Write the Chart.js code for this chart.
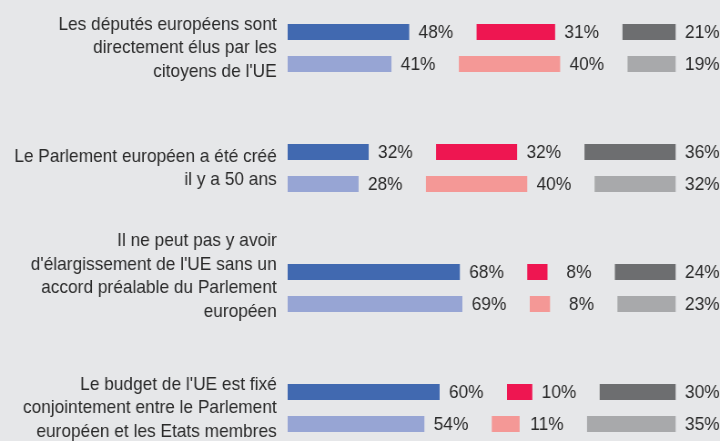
<!DOCTYPE html>
<html>
<head>
<meta charset="utf-8">
<script src="https://cdn.jsdelivr.net/npm/chart.js@4/dist/chart.umd.min.js"></script>
<style>
  html, body { margin: 0; padding: 0; background: #e6e7e9; overflow: hidden; }
  /* the reference is slightly squeezed horizontally, so draw wider and squeeze */
  #wrap { width: 791px; height: 441px; transform: scaleX(0.9102); transform-origin: 0 0; }
</style>
</head>
<body>
<div id="wrap"><canvas id="chart"></canvas></div>
<script>
// statements (the 3rd one gets an empty last line so it sits like the original)
const categories = [
    ["Les députés européens sont", "directement élus par les", "citoyens de l'UE"],
    ["Le Parlement européen a été créé", "il y a 50 ans"],
    ["Il ne peut pas y avoir", "d'élargissement de l'UE sans un", "accord préalable du Parlement", "européen", ""],
    ["Le budget de l'UE est fixé", "conjointement entre le Parlement", "européen et les Etats membres"]
];

// top row of each pair
const vraiA = [48, 32, 68, 60];
const fauxA = [31, 32, 8, 10];
const nspA  = [21, 36, 24, 30];
// bottom row of each pair
const vraiB = [41, 28, 69, 54];
const fauxB = [40, 40, 8, 11];
const nspB  = [19, 32, 23, 35];

const GAP = 26.6;   // room between segments (holds the % label)

// floating segments: [start, end] laid one after the other with a gap
function segments(a, b, c) {
    const s1 = [], s2 = [], s3 = [];
    for (let i = 0; i < a.length; i++) {
        s1.push([0, a[i]]);
        const r0 = a[i] + GAP;
        s2.push([r0, r0 + b[i]]);
        const g0 = r0 + b[i] + GAP;
        s3.push([g0, g0 + c[i]]);
    }
    return [s1, s2, s3];
}

const [a1, a2, a3] = segments(vraiA, fauxA, nspA);
const [b1, b2, b3] = segments(vraiB, fauxB, nspB);

function ds(data, values, color, stack) {
    return { data: data, values: values, backgroundColor: color, stack: stack, clip: false,
             categoryPercentage: 0.5333, barPercentage: 0.5, borderWidth: 0 };
}

const valueLabels = {
    id: 'valueLabels',
    afterDatasetsDraw(chart) {
        const ctx = chart.ctx;
        ctx.save();
        ctx.font = '19px "Liberation Sans", Arial, sans-serif';
        ctx.fillStyle = '#2a2a2a';
        ctx.textAlign = 'right';
        ctx.textBaseline = 'middle';
        chart.data.datasets.forEach((d, i) => {
            chart.getDatasetMeta(i).data.forEach((bar, j) => {
                const end = Math.max(bar.x, bar.base);
                ctx.fillText(d.values[j] + '%', end + 48.3, bar.y + 1);
            });
        });
        ctx.restore();
    }
};

new Chart(document.getElementById('chart'), {
    type: 'bar',
    data: {
        labels: categories,
        datasets: [
            ds(a1, vraiA, '#4169b0', 'a'),
            ds(a2, fauxA, '#ee1651', 'a'),
            ds(a3, nspA, '#6d6e70', 'a'),
            ds(b1, vraiB, '#97a5d4', 'b'),
            ds(b2, fauxB, '#f49896', 'b'),
            ds(b3, nspB, '#a8a9ab', 'b')
        ]
    },
    options: {
        indexAxis: 'y',
        responsive: true,
        maintainAspectRatio: false,
        animation: false,
        layout: { padding: { top: 48, bottom: 33, left: 0, right: 0 } },
        plugins: { legend: { display: false }, tooltip: { enabled: false } },
        scales: {
            x: { display: false, stacked: false, min: 0, max: 170.7 },
            y: {
                offset: false,
                grid: { display: false, drawTicks: false },
                border: { display: false },
                ticks: {
                    autoSkip: false,
                    color: '#2a2a2a',
                    padding: 12,
                    font: { family: '"Liberation Sans", Arial, sans-serif', size: 19, lineHeight: 1.23 }
                },
                afterFit(scale) {
                    scale.width = 316;
                    scale.paddingTop = 0;
                    scale.paddingBottom = 0;
                }
            }
        }
    },
    plugins: [valueLabels]
});
</script>
</body>
</html>
